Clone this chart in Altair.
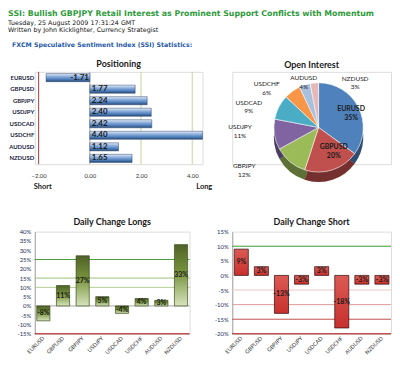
import altair as alt
import pandas as pd

# ---------------- data ----------------
pairs = ["EURUSD", "GBPUSD", "GBPJPY", "USDJPY", "USDCAD", "USDCHF", "AUDUSD", "NZDUSD"]
positioning = [-1.71, 1.77, 2.24, 2.40, 2.42, 4.40, 1.12, 1.65]
pos_ticks = [-2, 0, 2, 4]
open_interest = [35, 20, 12, 11, 9, 6, 4, 3]
change_longs = [-8, 11, 27, 5, -4, 4, 3, 33]
change_short = [9, 3, -13, -3, 3, -18, -3, -3]
longs_ticks = [40, 35, 30, 25, 20, 15, 10, 5, 0, -5, -10, -15]
short_ticks = [15, 10, 5, 0, -5, -10, -15, -20]
longs_lines = [25, 15, 10, 0, -15]
short_lines = [10, -5, -10, -15, -20]

FONT = "Lato"
HEAD = "DejaVu Sans"
TXT = "#1a1a1a"
TICKC = "#1f2f57"

panel_title = dict(font=FONT, fontSize=9, fontWeight="bold", color=TXT, offset=2)

# ---------------- Positioning ----------------
pos_df = pd.DataFrame({"pair": pairs, "value": positioning,
                       "label": [f"{v:.2f}" for v in positioning]})
pos_xs = alt.Scale(domain=[-2.15, 4.4], nice=False, zero=False)
pos_axis = alt.Axis(values=pos_ticks, format=".2f", title=None, domain=False, ticks=False,
                    grid=False, labelFont=FONT, labelFontSize=6, labelColor="#333333",
                    labelPadding=8)
pos_y = alt.Y("pair:N", sort=pairs, scale=alt.Scale(paddingInner=0.3, paddingOuter=0.15),
              axis=alt.Axis(title=None, domain=False, ticks=False, labelFont=FONT,
                            labelFontSize=6, labelFontWeight="bold", labelColor="#1b1b3a",
                            labelPadding=1))
blue_grad = alt.Gradient(gradient="linear", x1=0, x2=0, y1=0, y2=1, stops=[
    alt.GradientStop(color="#e6edf7", offset=0),
    alt.GradientStop(color="#8fb0dc", offset=0.35),
    alt.GradientStop(color="#4f81bd", offset=0.7),
    alt.GradientStop(color="#2a4873", offset=1)])

pos_grid_df = pd.DataFrame({"v": pos_ticks, "kind": ["short", "zero", "long", "long"]})
pos_grid = alt.Chart(pos_grid_df).mark_rule(strokeWidth=1).encode(
    x=alt.X("v:Q", scale=pos_xs, axis=pos_axis),
    color=alt.Color("kind:N", scale=alt.Scale(domain=["short", "zero", "long"],
                                              range=["#b03a3a", "#a6a6a6", "#c3d69b"]),
                    legend=None))
pos_bars = alt.Chart(pos_df).mark_bar(color=blue_grad, stroke="#2a4873", strokeWidth=0.5).encode(
    x=alt.X("value:Q", scale=pos_xs, axis=pos_axis), y=pos_y)
pos_txt_p = alt.Chart(pos_df).transform_filter("datum.value >= 0").mark_text(
    align="left", dx=2, font=FONT, fontSize=8, fontWeight="bold", color=TXT).encode(
    x=alt.datum(0), y=pos_y, text="label:N")
pos_txt_n = alt.Chart(pos_df).transform_filter("datum.value < 0").mark_text(
    align="right", dx=-1, font=FONT, fontSize=8, fontWeight="bold", color=TXT).encode(
    x=alt.datum(0), y=pos_y, text="label:N")
short_lbl = alt.Chart(pd.DataFrame({"v": [pos_ticks[0]], "t": ["Short"]})).mark_text(
    align="left", dx=-5, font=FONT, fontSize=7.5, fontWeight="bold", color=TXT).encode(
    x=alt.X("v:Q", scale=pos_xs, axis=pos_axis), y=alt.value(116), text="t:N")
long_lbl = alt.Chart(pd.DataFrame({"v": [pos_ticks[-1]], "t": ["Long"]})).mark_text(
    align="left", dx=4, font=FONT, fontSize=7.5, fontWeight="bold", color=TXT).encode(
    x=alt.X("v:Q", scale=pos_xs, axis=pos_axis), y=alt.value(116), text="t:N")

pos_chart = alt.layer(pos_grid, pos_bars, pos_txt_p, pos_txt_n, short_lbl, long_lbl).properties(
    width=169, height=93, title=alt.TitleParams("Positioning", **panel_title))

# ---------------- Open Interest pie ----------------
pie_colors = ["#4f81bd", "#c0504d", "#9bbb59", "#8064a2", "#4bacc6", "#f79646", "#a7c0de", "#e6b9b8"]
oi_df = pd.DataFrame({"pair": pairs, "share": open_interest, "idx": list(range(len(pairs)))})
oi_df["lbl"] = [f"{p}\n{s}%" for p, s in zip(pairs, open_interest)]
CX, CY = 87, 56
R = 45
DEPTH = 10
theta_scale = alt.Scale(domain=[0, sum(open_interest)])
pie_base = alt.Chart(oi_df).encode(
    theta=alt.Theta("share:Q", stack=True, scale=theta_scale),
    order=alt.Order("idx:Q"),
    color=alt.Color("pair:N", scale=alt.Scale(domain=pairs, range=pie_colors), legend=None))
pie_side = pie_base.mark_arc(outerRadius=R).encode(x=alt.value(CX), y=alt.value(CY + DEPTH))
pie_shade = pie_base.mark_arc(outerRadius=R, opacity=0.4).encode(
    x=alt.value(CX), y=alt.value(CY + DEPTH), color=alt.value("black"))
pie_top = pie_base.mark_arc(outerRadius=R, stroke="white", strokeWidth=0.6).encode(
    x=alt.value(CX), y=alt.value(CY))

# label placement: (radius, dx, dy, bold) per slice
label_place = {
    "EURUSD": (30, 6, -5, True),
    "GBPUSD": (30, 6, -9, True),
    "GBPJPY": (61, -36, -8, False),
    "USDJPY": (63, -17, -10, False),
    "USDCAD": (61, -16, 3, False),
    "USDCHF": (55, -20, 1, False),
    "AUDUSD": (55, 2, 3, False),
    "NZDUSD": (55, 42, 6, False),
}
pie_labels = []
for p, (rad, ldx, ldy, bold) in label_place.items():
    pie_labels.append(
        alt.Chart(oi_df)
        .transform_window(cum="sum(share)", sort=[alt.SortField("idx")])
        .transform_calculate(mid="datum.cum - datum.share / 2")
        .transform_filter(f"datum.pair == '{p}'")
        .mark_text(radius=rad, dx=ldx, dy=ldy, lineBreak="\n", font=FONT,
                   fontSize=7 if bold else 6.5, fontWeight="bold" if bold else "normal")
        .encode(theta=alt.Theta("mid:Q", stack=False, scale=theta_scale),
                x=alt.value(CX), y=alt.value(CY), text="lbl:N", color=alt.value(TXT)))

pie_chart = alt.layer(pie_side, pie_shade, pie_top, *pie_labels).properties(
    width=160, height=93, title=alt.TitleParams("Open Interest", **panel_title))

# ---------------- Daily change charts ----------------
def change_chart(values, ticks, lines, line_colors, domain, fill, stroke, title, width, pad):
    df = pd.DataFrame({"pair": pairs, "v": values, "label": [f"{v}%" for v in values]})
    xs = alt.X("pair:N", sort=pairs,
               scale=alt.Scale(paddingInner=pad, paddingOuter=0.1),
               axis=alt.Axis(title=None, labelAngle=315, labelAlign="right",
                             labelBaseline="middle", domain=False, ticks=False,
                             labelFont=FONT, labelFontSize=5.5, labelColor="#333333",
                             labelPadding=3))
    ys = alt.Scale(domain=domain, nice=False)
    yax = alt.Axis(values=ticks, labelExpr="datum.value + '%'", title=None, grid=False,
                   ticks=False, domain=True, domainColor="#a6a6a6", labelFont=FONT,
                   labelFontSize=6, labelColor=TICKC, labelPadding=4)
    ldf = pd.DataFrame({"y": lines, "k": [str(i) for i in range(len(lines))]})
    rules = alt.Chart(ldf).mark_rule(strokeWidth=1).encode(
        y=alt.Y("y:Q", scale=ys, axis=yax),
        color=alt.Color("k:N", scale=alt.Scale(domain=list(ldf["k"]), range=line_colors),
                        legend=None))
    bars = alt.Chart(df).mark_bar(color=fill, stroke=stroke, strokeWidth=0.7).encode(
        x=xs, y=alt.Y("v:Q", scale=ys, axis=yax))
    txt = alt.Chart(df).transform_calculate(mid="datum.v / 2").mark_text(
        font=FONT, fontSize=7, fontWeight="bold", color=TXT).encode(
        x=xs, y=alt.Y("mid:Q", scale=ys, axis=yax), text="label:N")
    return alt.layer(rules, bars, txt).properties(
        width=width, height=103, title=alt.TitleParams(title, **panel_title))

green_grad = alt.Gradient(gradient="linear", x1=0, x2=0, y1=0, y2=1, stops=[
    alt.GradientStop(color="#4f6228", offset=0),
    alt.GradientStop(color="#77933c", offset=0.45),
    alt.GradientStop(color="#d7e4bd", offset=1)])
red_grad = alt.Gradient(gradient="linear", x1=0, x2=0, y1=0, y2=1, stops=[
    alt.GradientStop(color="#dc5a55", offset=0),
    alt.GradientStop(color="#c8302c", offset=1)])

longs_chart = change_chart(change_longs, longs_ticks, longs_lines,
                           ["#4a9a3a", "#9bc27a", "#b3cf95", "#a6a6a6", "#a50000"],
                           [-15, 40], green_grad, "#3d4d1d", "Daily Change Longs", 156, 0.33)
short_chart = change_chart(change_short, short_ticks, short_lines,
                           ["#3a9a3a", "#ecc8c7", "#dc9a98", "#c0504d", "#a50000"],
                           [-20, 15], red_grad, "#2a0a0a", "Daily Change Short", 160, 0.3)

# ---------------- assemble ----------------
grid = alt.concat(pos_chart, pie_chart, longs_chart, short_chart, columns=2,
                  spacing=alt.RowColnumber(row=68, column=30), bounds="flush",
                  title=alt.TitleParams("FXCM Speculative Sentiment Index (SSI) Statistics:",
                                        anchor="start", font=HEAD, fontSize=6.3,
                                        fontWeight="bold", color="#1f5aa6", dx=4, offset=12)
                  ).resolve_scale(color="independent")

chart = alt.vconcat(grid).resolve_scale(color="independent").properties(
    padding=0,
    title=alt.TitleParams(
        "SSI: Bullish GBPJPY Retail Interest as Prominent Support Conflicts with Momentum",
        subtitle=["Tuesday, 25 August 2009 17:31:24 GMT",
                  "Written by John Kicklighter, Currency Strategist"],
        anchor="start", font=HEAD, fontSize=7.9, fontWeight="bold", color="#2f9a3c",
        subtitleFont=HEAD, subtitleFontSize=6.4, subtitleColor="#111111",
        subtitlePadding=2, subtitleLineHeight=8, offset=8)
).configure_view(stroke=None).configure(background="white")

chart.save("out.html", embed_options={"renderer": "svg", "actions": False})
